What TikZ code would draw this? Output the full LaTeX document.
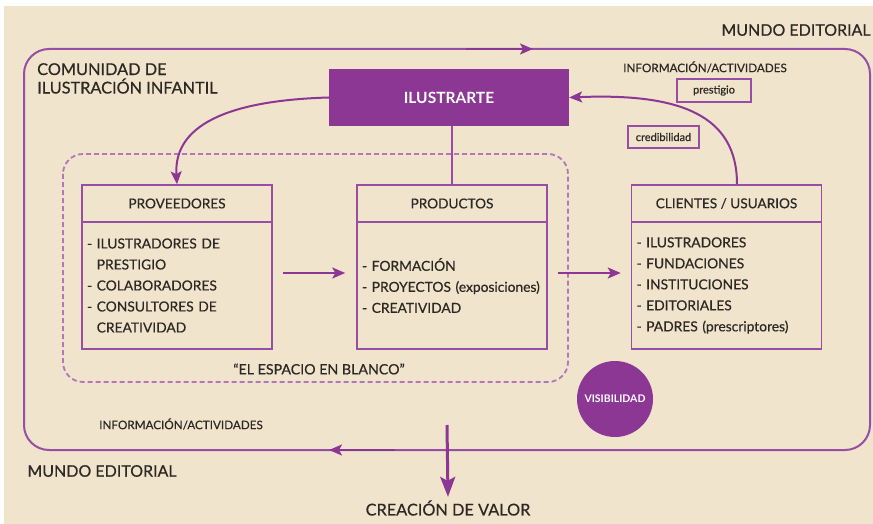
\documentclass[tikz,border=0pt]{standalone}
\usepackage{fontspec}
\setmainfont{Lato}[UprightFeatures={FakeBold=0.5}]
\usetikzlibrary{arrows.meta}
\definecolor{fondo}{RGB}{240,228,205}
\definecolor{morado}{RGB}{140,55,148}
\definecolor{linea}{RGB}{152,78,165}
\definecolor{punteado}{RGB}{178,118,190}
\definecolor{texto}{RGB}{45,40,35}
\tikzstyle{head} = [draw=linea, line width=1.5pt, minimum width=190pt, minimum height=37pt, inner sep=0pt, font={\fontsize{13.6}{16}\selectfont}]
\tikzstyle{body} = [draw=linea, line width=1.5pt, text width=180pt, inner xsep=5pt, inner ysep=0pt, minimum height=127pt, align=left, font={\fontsize{13.8}{21}\selectfont}]
\tikzstyle{flecha} = [draw=morado, line width=2pt, ->]
\tikzstyle{small} = [font={\fontsize{11.7}{13}\selectfont}]
\tikzstyle{tag} = [draw=linea, line width=1.2pt, inner sep=0pt, font={\fontsize{11}{12}\selectfont}]
\tikzstyle{mundo} = [font={\fontsize{16}{19}\selectfont}]
\tikzstyle{active} = [fill=morado, text=white, font={\bfseries\fontsize{15.5}{18}\selectfont}]

\begin{document}
\begin{tikzpicture}[x=1pt, y=-1pt, text=texto, >={Stealth[length=13pt,width=11pt,inset=3pt]}]
  \useasboundingbox (0,0) rectangle (873,524);
  \fill[white] (0,0) rectangle (873,524);
  \fill[fondo] (4,6) rectangle (873,524);
  \draw[linea, line width=2pt, rounded corners=25pt] (24,49) rectangle (870,450);
  \draw[punteado, line width=1.8pt, dash pattern=on 5pt off 3pt, rounded corners=20pt] (63,154) rectangle (568,382);

  \node[mundo](mundo1) at (796,30){MUNDO EDITORIAL};
  \node[mundo](mundo2) at (102,471){MUNDO EDITORIAL};
  \node[mundo, font={\fontsize{16.3}{19}\selectfont}](valor) at (448,508){CREACIÓN DE VALOR};
  \node[anchor=north west, align=left, inner sep=0pt, font={\fontsize{16.3}{18.5}\selectfont}](comunidad) at (37,63){COMUNIDAD DE\\ILUSTRACIÓN INFANTIL};
  \node[small](info1) at (705,67){INFORMACIÓN/ACTIVIDADES};
  \node[small](info2) at (181,424){INFORMACIÓN/ACTIVIDADES};
  \node[tag, minimum width=74pt, minimum height=23pt](prestigio) at (714,90.5){prestigio};
  \node[tag, minimum width=71pt, minimum height=22pt](credib) at (663.5,137){credibilidad};

  \node[active, minimum width=240pt, minimum height=57pt](ilus) at (449,97.5){ILUSTRARTE};
  \node[circle, fill=morado, text=white, minimum size=76pt, inner sep=0pt, font={\bfseries\fontsize{10.5}{12}\selectfont}](visib) at (615,399){VISIBILIDAD};

  \node[head](provh) at (177,203.5){PROVEEDORES};
  \node[body](provb) at (177,285.5){- ILUSTRADORES DE\\\phantom{- }PRESTIGIO\\- COLABORADORES\\- CONSULTORES DE\\\phantom{- }CREATIVIDAD};
  \node[head](prodh) at (452,203.5){PRODUCTOS};
  \node[body](prodb) at (452,285.5){- FORMACIÓN\\- PROYECTOS (exposiciones)\\- CREATIVIDAD};
  \node[head](clih) at (726.5,203.5){CLIENTES / USUARIOS};
  \node[body](clib) at (726.5,285.5){- ILUSTRADORES\\- FUNDACIONES\\- INSTITUCIONES\\- EDITORIALES\\- PADRES (prescriptores)};

  \node[font={\fontsize{14.2}{16}\selectfont}](blanco) at (319,369){“EL ESPACIO EN BLANCO”};

  \coordinate (a1) at (466,49);
  \coordinate (a2) at (533,49);
  \coordinate (b1) at (395,450);
  \coordinate (b2) at (329,450);
  \coordinate (v1) at (447,425);
  \draw[flecha](a1)--(a2);
  \draw[flecha](b1)--(b2);
  \draw[flecha, line width=3pt, >={Stealth[length=20pt,width=15pt,inset=4pt]}](v1)--(valor.north);
  \draw[linea, line width=1.8pt](ilus.south -| prodh.north)--(prodh.north);
  \draw[flecha, shorten <=10pt, shorten >=11pt]([yshift=12.5pt]provb.east)--([yshift=12.5pt]prodb.west);
  \draw[flecha, shorten <=10pt, shorten >=10pt]([yshift=12.5pt]prodb.east)--([yshift=12.5pt]clib.west);
  \draw[flecha](ilus.west) .. controls (240,100) and (173,120) .. (provh.north);
  \draw[flecha]([xshift=10.5pt]clih.north) .. controls (737,115) and (680,93) .. (ilus.east);
\end{tikzpicture}
\end{document}
